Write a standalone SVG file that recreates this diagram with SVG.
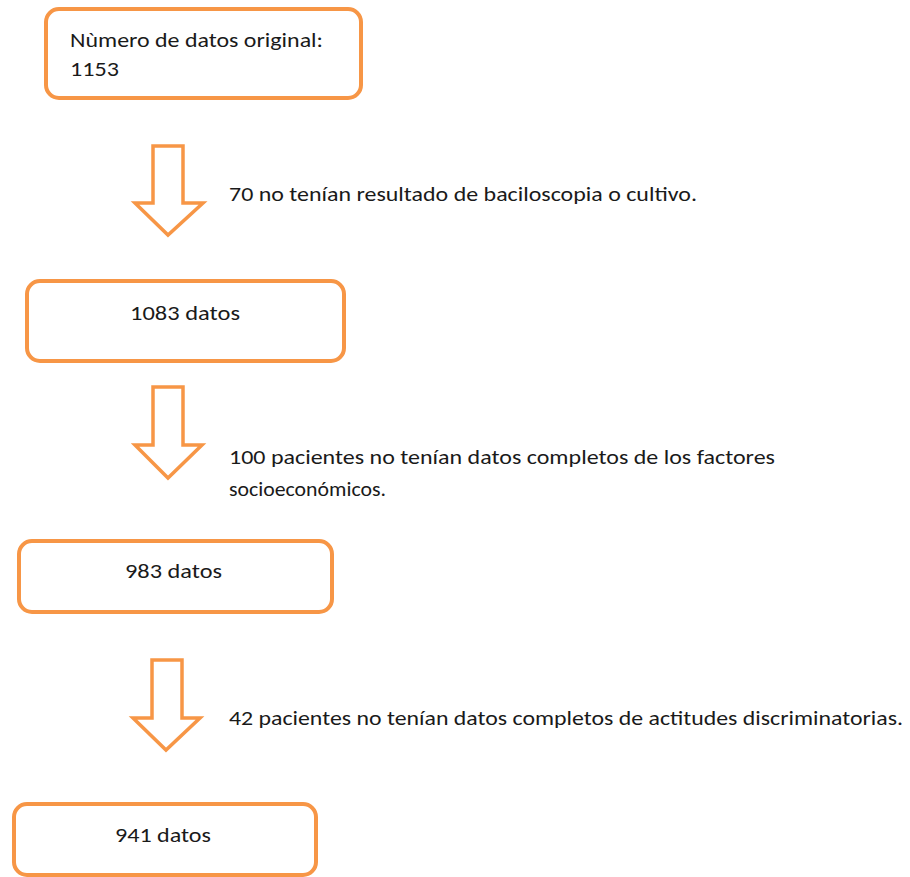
<svg xmlns="http://www.w3.org/2000/svg" width="910" height="877" viewBox="0 0 910 877">
<style>
.box{fill:#ffffff;stroke:#F79646;stroke-width:4}
.arr{fill:#ffffff;stroke:#F79646;stroke-width:3.5;stroke-linejoin:miter}
.t{font-family:Carlito,Lato,"Liberation Sans",sans-serif;font-size:21px;fill:#1a1a1a}
</style>
<rect width="910" height="877" fill="#ffffff"/>
<g id="node1">
<rect class="box" x="46" y="9" width="315" height="89" rx="13"/>
<text class="t" x="70" y="47" textLength="253" lengthAdjust="spacingAndGlyphs">Nùmero de datos original:</text>
<text class="t" x="70" y="76" textLength="49" lengthAdjust="spacingAndGlyphs">1153</text>
</g>
<g id="node2">
<rect class="box" x="27" y="281" width="317" height="80" rx="13"/>
<text class="t" x="130" y="320" textLength="110" lengthAdjust="spacingAndGlyphs">1083 datos</text>
</g>
<g id="node3">
<rect class="box" x="19" y="541" width="313" height="71" rx="13"/>
<text class="t" x="125" y="578" textLength="97" lengthAdjust="spacingAndGlyphs">983 datos</text>
</g>
<g id="node4">
<rect class="box" x="14" y="804" width="302" height="71" rx="13"/>
<text class="t" x="115" y="842" textLength="96" lengthAdjust="spacingAndGlyphs">941 datos</text>
</g>
<g id="connectors">
<polygon class="arr" points="153,146 183,146 183,203 203,203 168,235 135,203 153,203"/>
<polygon class="arr" points="153,387 183,387 183,445 202,445 168,478 135,445 153,445"/>
<polygon class="arr" points="152,660 182,660 182,718 200,718 166,750 133,718 152,718"/>
</g>
<g id="labels">
<text class="t" x="229" y="201" textLength="468" lengthAdjust="spacingAndGlyphs">70 no tenían resultado de baciloscopia o cultivo.</text>
<text class="t" x="229" y="464" textLength="546" lengthAdjust="spacingAndGlyphs">100 pacientes no tenían datos completos de los factores</text>
<text class="t" x="229" y="496" textLength="157" lengthAdjust="spacingAndGlyphs">socioeconómicos.</text>
<text class="t" x="229" y="725" textLength="674" lengthAdjust="spacingAndGlyphs">42 pacientes no tenían datos completos de actitudes discriminatorias.</text>
</g>
</svg>
